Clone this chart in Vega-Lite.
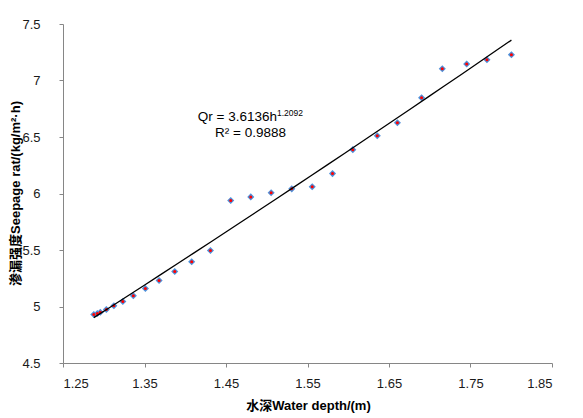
{
  "$schema": "https://vega.github.io/schema/vega-lite/v6.json",
  "autosize": "none",
  "width": 489,
  "height": 339,
  "padding": {"left": 63, "top": 24, "right": 31, "bottom": 55},
  "background": "white",
  "config": {
    "view": {"stroke": null},
    "axis": {
      "grid": false,
      "domainColor": "#868686",
      "tickColor": "#868686",
      "tickSize": 4,
      "labelFont": "Liberation Sans",
      "labelFontSize": 13,
      "labelColor": "#1a1a1a",
      "titleFont": "Liberation Sans, Noto Sans CJK SC",
      "titleFontSize": 13,
      "titleFontWeight": "bold",
      "titleColor": "#000000"
    }
  },
  "datasets": {
    "pts": [
      {"h": 1.2878, "q": 4.929},
      {"h": 1.2921, "q": 4.938},
      {"h": 1.2958, "q": 4.949},
      {"h": 1.3032, "q": 4.974},
      {"h": 1.3124, "q": 5.007},
      {"h": 1.3234, "q": 5.045},
      {"h": 1.3363, "q": 5.095},
      {"h": 1.3511, "q": 5.160},
      {"h": 1.3679, "q": 5.230},
      {"h": 1.3871, "q": 5.310},
      {"h": 1.4079, "q": 5.396},
      {"h": 1.4309, "q": 5.496},
      {"h": 1.4558, "q": 5.938},
      {"h": 1.4804, "q": 5.970},
      {"h": 1.5054, "q": 6.006},
      {"h": 1.5307, "q": 6.041},
      {"h": 1.5558, "q": 6.059},
      {"h": 1.5807, "q": 6.176},
      {"h": 1.6056, "q": 6.388},
      {"h": 1.6356, "q": 6.511},
      {"h": 1.6603, "q": 6.626},
      {"h": 1.6900, "q": 6.847},
      {"h": 1.7154, "q": 7.104},
      {"h": 1.7453, "q": 7.146},
      {"h": 1.7702, "q": 7.184},
      {"h": 1.8002, "q": 7.228}
    ],
    "eq": [
      {"h": 1.5125, "q": 6.679, "main": "Qr = 3.6136h", "sup": "1.2092"}
    ],
    "r2": [
      {"h": 1.480, "q": 6.537, "label": "R² = 0.9888"}
    ]
  },
  "layer": [
    {
      "data": {"name": "pts"},
      "mark": {"type": "point", "shape": "diamond", "filled": true, "size": 50, "color": "#4f8fd8", "opacity": 1},
      "encoding": {
        "x": {
          "field": "h", "type": "quantitative",
          "scale": {"domain": [1.25, 1.85], "nice": false, "zero": false},
          "axis": {
            "values": [1.25, 1.35, 1.45, 1.55, 1.65, 1.75, 1.85],
            "format": ".2f",
            "labelPadding": 10,
            "title": "水深Water depth/(m)",
            "titleX": 245,
            "titleY": 42,
            "titleAlign": "center",
            "titleBaseline": "middle"
          }
        },
        "y": {
          "field": "q", "type": "quantitative",
          "scale": {"domain": [4.5, 7.5], "nice": false, "zero": false},
          "axis": {
            "values": [4.5, 5, 5.5, 6, 6.5, 7, 7.5],
            "format": "~g",
            "labelPadding": 19,
            "title": "渗漏强度Seepage rat/(kg/m²·h)",
            "titleX": -48,
            "titleY": 169,
            "titleAngle": -90,
            "titleAlign": "center",
            "titleBaseline": "middle"
          }
        }
      }
    },
    {
      "data": {"name": "pts"},
      "mark": {"type": "point", "shape": "circle", "filled": true, "size": 9, "color": "#ff0000", "opacity": 1},
      "encoding": {
        "x": {"field": "h", "type": "quantitative"},
        "y": {"field": "q", "type": "quantitative"}
      }
    },
    {
      "data": {"name": "pts"},
      "transform": [{"regression": "q", "on": "h", "method": "pow"}],
      "mark": {"type": "line", "color": "#000000", "strokeWidth": 1.3},
      "encoding": {
        "x": {"field": "h", "type": "quantitative"},
        "y": {"field": "q", "type": "quantitative"}
      }
    },
    {
      "data": {"name": "eq"},
      "mark": {"type": "text", "align": "right", "baseline": "middle", "font": "Liberation Sans", "fontSize": 13.5, "color": "#000000"},
      "encoding": {
        "x": {"field": "h", "type": "quantitative"},
        "y": {"field": "q", "type": "quantitative"},
        "text": {"field": "main"}
      }
    },
    {
      "data": {"name": "eq"},
      "mark": {"type": "text", "align": "left", "baseline": "middle", "font": "Liberation Sans", "fontSize": 8.5, "dy": -4, "color": "#000000"},
      "encoding": {
        "x": {"field": "h", "type": "quantitative"},
        "y": {"field": "q", "type": "quantitative"},
        "text": {"field": "sup"}
      }
    },
    {
      "data": {"name": "r2"},
      "mark": {"type": "text", "align": "center", "baseline": "middle", "font": "Liberation Sans", "fontSize": 13.5, "color": "#000000"},
      "encoding": {
        "x": {"field": "h", "type": "quantitative"},
        "y": {"field": "q", "type": "quantitative"},
        "text": {"field": "label"}
      }
    }
  ]
}
